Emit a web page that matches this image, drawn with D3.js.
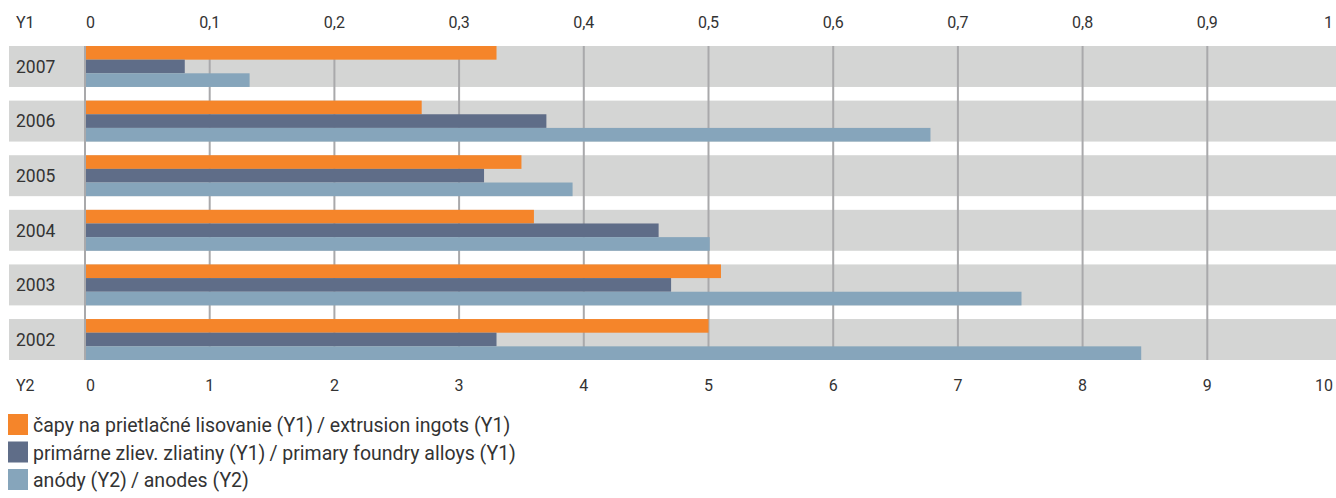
<!DOCTYPE html>
<html>
<head>
<meta charset="utf-8">
<script src="https://cdn.jsdelivr.net/npm/d3@7"></script>
<style>
  body { margin: 0; background: #fff; }
  text { font-family: Roboto, "Liberation Sans", sans-serif; fill: #333; }
</style>
</head>
<body>
<svg></svg>
<script>
var width = 1336, height = 498;
var svg = d3.select("svg").attr("width", width).attr("height", height);

// data
var years = ["2007", "2006", "2005", "2004", "2003", "2002"];
var extrusion = [0.33, 0.27, 0.35, 0.36, 0.51, 0.50];   // Y1
var foundry = [0.08, 0.37, 0.32, 0.46, 0.47, 0.33];     // Y1
var anodes = [1.32, 6.78, 3.91, 5.01, 7.51, 8.47];      // Y2
var y1Ticks = [0, 0.1, 0.2, 0.3, 0.4, 0.5, 0.6, 0.7, 0.8, 0.9, 1];
var y2Ticks = [0, 1, 2, 3, 4, 5, 6, 7, 8, 9, 10];
var seriesNames = [
  "čapy na prietlačné lisovanie (Y1)\u2009/ extrusion ingots (Y1)",
  "primárne zliev. zliatiny (Y1)\u2009/ primary foundry alloys (Y1)",
  "anódy (Y2)\u2009/ anodes (Y2)"
];
var colors = ["#f5852a", "#5f6d88", "#86a5bb"];

var x1 = d3.scaleLinear().domain([0, 1]).range([85, 1332]);
var x2 = d3.scaleLinear().domain([0, 10]).range([85, 1332]);
var y = d3.scaleBand().domain(years).range([46, 360]).paddingInner(0.25);
var ySub = d3.scaleBand().domain([0, 1, 2]).range([0, y.bandwidth()]);

// row backgrounds
svg.append("g").selectAll("rect")
  .data(years).enter().append("rect")
  .attr("x", 9)
  .attr("y", function (d) { return y(d); })
  .attr("width", width - 9)
  .attr("height", y.bandwidth())
  .attr("fill", "#d4d5d4");

// gridlines
svg.append("g").selectAll("line")
  .data(y1Ticks.slice(0, -1)).enter().append("line")
  .attr("x1", function (d) { return x1(d); })
  .attr("x2", function (d) { return x1(d); })
  .attr("y1", y.range()[0])
  .attr("y2", y.range()[1])
  .attr("stroke", "#a9a9ab")
  .attr("stroke-width", 2);

// bars
var rows = years.map(function (yr, i) {
  return [
    { year: yr, k: 0, w: x1(extrusion[i]) - x1(0) },
    { year: yr, k: 1, w: x1(foundry[i]) - x1(0) },
    { year: yr, k: 2, w: x2(anodes[i]) - x2(0) }
  ];
});
svg.append("g").selectAll("rect")
  .data(d3.merge(rows)).enter().append("rect")
  .attr("x", x1(0) + 1)
  .attr("y", function (d) { return y(d.year) + ySub(d.k); })
  .attr("width", function (d) { return d.w - 1; })
  .attr("height", ySub.bandwidth())
  .attr("fill", function (d) { return colors[d.k]; });

// year labels
svg.append("g").selectAll("text")
  .data(years).enter().append("text")
  .attr("x", 16)
  .attr("y", function (d) { return y(d) + y.bandwidth() / 2; })
  .attr("dy", "0.36em")
  .style("font-size", "17.5px")
  .text(function (d) { return d; });

// axes
var fmt = function (d) { return String(d).replace(".", ","); };
function anchor(d, i, n) {
  return i === 0 ? "start" : (i === n - 1 ? "end" : "middle");
}
function axisLabels(ticks, scale, yPos, name) {
  var g = svg.append("g");
  g.append("text").attr("x", 16).attr("y", yPos)
    .style("font-size", "16px").text(name);
  g.selectAll("text.tick")
    .data(ticks).enter().append("text")
    .attr("class", "tick")
    .attr("x", function (d, i) {
      if (i === 0) return scale(d) + 1;
      if (i === ticks.length - 1) return scale(d) + 1;
      return scale(d);
    })
    .attr("y", yPos)
    .attr("text-anchor", function (d, i) { return anchor(d, i, ticks.length); })
    .style("font-size", "16px")
    .text(fmt);
}
axisLabels(y1Ticks, x1, 28, "Y1");
axisLabels(y2Ticks, x2, 391, "Y2");

// legend
var leg = svg.append("g").selectAll("g")
  .data(seriesNames).enter().append("g")
  .attr("transform", function (d, i) { return "translate(8," + (414 + i * 27.5) + ")"; });
leg.append("rect")
  .attr("width", 20).attr("height", 21)
  .attr("fill", function (d, i) { return colors[i]; });
leg.append("text")
  .attr("x", 25).attr("y", 18)
  .style("font-size", "19.5px")
  .text(function (d) { return d; });
</script>
</body>
</html>
